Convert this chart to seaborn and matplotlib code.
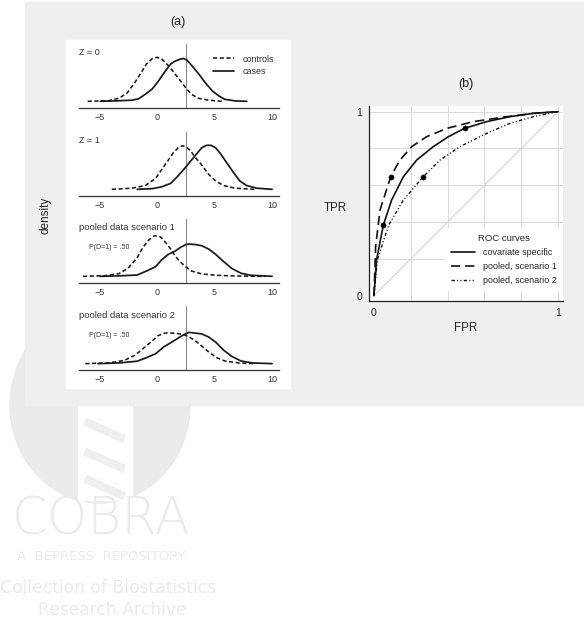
import numpy as np
import pandas as pd
import matplotlib
matplotlib.use("Agg")
import matplotlib.pyplot as plt
import seaborn as sns
from matplotlib.patches import Rectangle, Circle

# ---------------- panel (a): densities ----------------
titles = ['Z = 0', 'Z = 1', 'pooled data scenario 1', 'pooled data scenario 2']
prev_note = [None, None, 'P(D=1) = .50', 'P(D=1) = .50']
cutoff = 2.5

ctrl_x_z0 = [-6.0, -4.2, -3.3, -2.6, -1.9, -1.3, -0.9, -0.4, 0.0, 0.4, 0.7, 1.2, 1.6, 2.0, 2.5, 3.0, 3.6, 4.5, 5.7]
ctrl_y_z0 = [0, 0.003, 0.014, 0.036, 0.086, 0.135, 0.170, 0.194, 0.200, 0.194, 0.179, 0.150, 0.123, 0.097, 0.062, 0.032, 0.014, 0.005, 0]
case_x_z0 = [-4.9, -3.6, -2.2, -1.6, -1.0, -0.4, 0.1, 0.7, 1.2, 1.6, 2.0, 2.3, 2.6, 3.0, 3.6, 4.2, 4.8, 5.4, 5.9, 6.8, 7.8]
case_y_z0 = [0, 0.002, 0.005, 0.011, 0.032, 0.056, 0.089, 0.135, 0.170, 0.183, 0.191, 0.195, 0.188, 0.165, 0.127, 0.085, 0.048, 0.024, 0.009, 0.002, 0]

ctrl_x_z1 = [-3.9, -2.2, -1.0, -0.1, 0.4, 1.0, 1.4, 1.9, 2.2, 2.5, 2.9, 3.3, 3.9, 4.5, 5.1, 5.8, 6.8, 8.5]
ctrl_y_z1 = [0, 0.005, 0.017, 0.050, 0.088, 0.133, 0.164, 0.191, 0.198, 0.194, 0.177, 0.148, 0.110, 0.068, 0.038, 0.017, 0.005, 0]
case_x_z1 = [-1.7, -0.4, 0.4, 1.2, 1.7, 2.3, 2.9, 3.5, 3.9, 4.3, 4.7, 5.1, 5.5, 6.1, 6.7, 7.2, 7.8, 8.7, 10.0]
case_y_z1 = [0, 0.003, 0.011, 0.027, 0.053, 0.088, 0.126, 0.164, 0.189, 0.200, 0.200, 0.189, 0.164, 0.118, 0.073, 0.038, 0.017, 0.005, 0]

ctrl_x_p1 = [-6.4, -4.5, -3.3, -2.5, -1.7, -1.2, -0.7, -0.2, 0.3, 0.7, 1.2, 1.6, 2.0, 2.5, 3.0, 3.9, 5.1, 6.5, 8.6, 9.4]
ctrl_y_p1 = [0, 0.003, 0.012, 0.036, 0.085, 0.132, 0.165, 0.185, 0.180, 0.158, 0.124, 0.092, 0.067, 0.044, 0.024, 0.011, 0.005, 0.002, 0, 0]
case_x_p1 = [-4.9, -3.3, -1.7, -0.9, -0.1, 0.4, 1.0, 1.6, 2.0, 2.5, 2.8, 3.4, 3.9, 4.5, 5.1, 5.8, 6.5, 7.3, 8.1, 10.0]
case_y_p1 = [0, 0.002, 0.006, 0.024, 0.044, 0.074, 0.100, 0.115, 0.130, 0.144, 0.147, 0.144, 0.139, 0.124, 0.100, 0.067, 0.036, 0.014, 0.005, 0]

ctrl_x_p2 = [-6.2, -4.2, -2.8, -1.9, -1.2, -0.4, 0.1, 0.7, 1.3, 1.9, 2.3, 2.7, 3.3, 3.9, 4.5, 5.2, 5.9, 7.1, 8.5]
ctrl_y_p2 = [0, 0.003, 0.015, 0.038, 0.068, 0.103, 0.127, 0.139, 0.139, 0.136, 0.132, 0.124, 0.106, 0.080, 0.053, 0.027, 0.012, 0.003, 0]
case_x_p2 = [-5.1, -3.3, -1.7, -0.9, -0.1, 0.6, 1.3, 2.0, 2.5, 2.8, 3.3, 3.9, 4.5, 5.1, 5.8, 6.5, 7.3, 8.3, 10.0]
case_y_p2 = [0, 0.003, 0.011, 0.027, 0.045, 0.076, 0.098, 0.121, 0.136, 0.142, 0.139, 0.135, 0.121, 0.098, 0.061, 0.033, 0.012, 0.003, 0]

controls = [(ctrl_x_z0, ctrl_y_z0), (ctrl_x_z1, ctrl_y_z1), (ctrl_x_p1, ctrl_y_p1), (ctrl_x_p2, ctrl_y_p2)]
cases = [(case_x_z0, case_y_z0), (case_x_z1, case_y_z1), (case_x_p1, case_y_p1), (case_x_p2, case_y_p2)]
dens_ticks = [-5, 0, 5, 10]

# ---------------- panel (b): ROC curves ----------------
roc_labels = ['covariate specific', 'pooled, scenario 1', 'pooled, scenario 2']
fpr_cov = [0, 0.014, 0.051, 0.096, 0.160, 0.232, 0.322, 0.404, 0.491, 0.612, 0.739, 0.866, 1.0]
tpr_cov = [0, 0.194, 0.384, 0.520, 0.647, 0.737, 0.810, 0.864, 0.909, 0.946, 0.973, 0.991, 1.0]
fpr_p1 = [0, 0.009, 0.033, 0.091, 0.141, 0.205, 0.286, 0.395, 0.540, 0.721, 0.866, 1.0]
tpr_p1 = [0, 0.266, 0.466, 0.647, 0.737, 0.810, 0.864, 0.909, 0.946, 0.973, 0.991, 1.0]
fpr_p2 = [0, 0.018, 0.080, 0.160, 0.268, 0.359, 0.467, 0.612, 0.739, 0.866, 1.0]
tpr_p2 = [0, 0.194, 0.384, 0.520, 0.647, 0.737, 0.810, 0.882, 0.937, 0.973, 1.0]
pt_fpr = [0.050, 0.495, 0.092, 0.265]
pt_tpr = [0.384, 0.910, 0.647, 0.647]

W, H = 584, 636
sns.set_style("white")
plt.rcParams['font.family'] = ['Liberation Sans', 'DejaVu Sans']
fig = plt.figure(figsize=(W / 100, H / 100), dpi=100)


def px_axes(l, t, w, h):
    return fig.add_axes([l / W, 1 - (t + h) / H, w / W, h / H])


def fx(x):
    return x / W


def fy(y):
    return 1 - y / H


# watermark behind everything
wm = '#ebebeb'
fig.patches.append(Circle((fx(100), fy(405)), 90 / W, transform=fig.transFigure,
                          color=wm, zorder=-5))
fig.patches.append(Rectangle((fx(78), fy(500)), 54 / W, 100 / H, transform=fig.transFigure,
                             color='white', zorder=-4.9))
for yy in [425, 455, 482]:
    fig.patches.append(Rectangle((fx(84), fy(yy)), 42 / W, 7 / H, transform=fig.transFigure,
                                 color='#efefef', zorder=-4.8, angle=-22))
fig.text(fx(101), fy(520), 'COBRA', ha='center', va='center', fontsize=37, color=wm,
         family='DejaVu Sans', fontweight='light', zorder=-4)
fig.text(fx(101), fy(557), 'A  BEPRESS  REPOSITORY', ha='center', va='center', fontsize=9.5,
         color=wm, family='DejaVu Sans', zorder=-4)
fig.text(fx(108), fy(588), 'Collection of Biostatistics', ha='center', va='center', fontsize=12.3,
         color=wm, family='DejaVu Sans', zorder=-4)
fig.text(fx(112), fy(610), 'Research Archive', ha='center', va='center', fontsize=12.3,
         color=wm, family='DejaVu Sans', zorder=-4)

# grey graph region and white box of panel (a)
fig.patches.append(Rectangle((fx(25), fy(405)), (W - 25) / W, 403 / H, transform=fig.transFigure,
                             color='#efefef', zorder=-2))
fig.patches.append(Rectangle((fx(66), fy(388)), 224 / W, 348 / H, transform=fig.transFigure,
                             color='white', zorder=-1))

fig.text(fx(178), fy(22), '(a)', ha='center', va='center', fontsize=9, color='#222')
fig.text(fx(45), fy(215), 'density', ha='center', va='center', rotation=90, fontsize=8.5, color='#222')

axis_lines = [107.7, 195.7, 282.7, 370.0]
for i, base in enumerate(axis_lines):
    ax = px_axes(79, base - 64, 200, 64)
    ax.patch.set_alpha(0)
    ax.axvline(cutoff, color='#8a8a8a', lw=0.8)
    cx, cy = controls[i]
    kx, ky = cases[i]
    sns.lineplot(x=cx, y=cy, ax=ax, color='#1a1a1a', lw=1.15, linestyle=(0, (2.6, 1.6)),
                 sort=False, estimator=None, label='controls', legend=False)
    sns.lineplot(x=kx, y=ky, ax=ax, color='#1a1a1a', lw=1.25,
                 sort=False, estimator=None, label='cases', legend=False)
    ax.set_xlim(-6.75, 10.6)
    ax.set_ylim(-0.029, 0.262)
    ax.set_xticks(dens_ticks)
    ax.set_yticks([])
    ax.set_xlabel('')
    ax.set_ylabel('')
    for s in ['top', 'right', 'left']:
        ax.spines[s].set_visible(False)
    ax.spines['bottom'].set_color('#333333')
    ax.spines['bottom'].set_linewidth(0.9)
    ax.tick_params(axis='x', direction='out', length=2, width=0.8, pad=1.5,
                   labelsize=6.5, colors='#333333')
    ax.text(0.0, 0.855, titles[i], transform=ax.transAxes, fontsize=6.8 if i > 1 else 6.5,
            color='#333333', va='center', ha='left')
    if prev_note[i]:
        ax.text(0.05, 0.545, prev_note[i], transform=ax.transAxes, fontsize=5,
                color='#333333', va='center', ha='left')
    if i == 0:
        ax.legend(loc='upper left', bbox_to_anchor=(0.67, 0.83), frameon=False, fontsize=6.5,
                  borderpad=0, borderaxespad=0, handlelength=2.3, handletextpad=1.0,
                  labelspacing=0.35, labelcolor='#333333')

# ---------------- panel (b) ----------------
fig.text(fx(466), fy(84), '(b)', ha='center', va='center', fontsize=9, color='#222')
fig.text(fx(335), fy(208), 'TPR', ha='center', va='center', fontsize=8.3, color='#222')
fig.text(fx(466), fy(328), 'FPR', ha='center', va='center', fontsize=8.3, color='#222')

ax = px_axes(369, 106, 194, 195)
ax.set_facecolor('white')
for g in [0.2, 0.4, 0.6, 0.8, 1.0]:
    ax.axvline(g, color='#dcdcdc', lw=0.8, zorder=0)
    ax.axhline(g, color='#dcdcdc', lw=0.8, zorder=0)
ax.plot([0, 1], [0, 1], color='#d6d6d6', lw=0.8, zorder=0)

sns.lineplot(x=fpr_cov, y=tpr_cov, ax=ax, color='#111111', lw=1.2, sort=False, estimator=None,
             label=roc_labels[0], legend=False)
sns.lineplot(x=fpr_p1, y=tpr_p1, ax=ax, color='#111111', lw=1.2, linestyle=(0, (5.5, 3)),
             sort=False, estimator=None, label=roc_labels[1], legend=False)
sns.lineplot(x=fpr_p2, y=tpr_p2, ax=ax, color='#111111', lw=1.0,
             linestyle=(0, (2.4, 1.6, 0.8, 1.6, 0.8, 1.6)),
             sort=False, estimator=None, label=roc_labels[2], legend=False)
sns.scatterplot(x=pt_fpr, y=pt_tpr, ax=ax, color='black', s=14, edgecolor='black', zorder=5)

ax.set_xlim(-0.027, 1.027)
ax.set_ylim(-0.029, 1.031)
ax.set_xticks([0, 1])
ax.set_yticks([0, 1])
ax.set_xticklabels(['0', '1'])
ax.set_yticklabels(['0', '1'])
ax.set_xlabel('')
ax.set_ylabel('')
for s in ['top', 'right']:
    ax.spines[s].set_visible(False)
for s in ['left', 'bottom']:
    ax.spines[s].set_color('#222222')
    ax.spines[s].set_linewidth(0.9)
ax.tick_params(direction='out', length=3, width=0.8, pad=2, labelsize=7.5, colors='#222222')

leg = ax.legend(loc='upper left', bbox_to_anchor=(0.39, 0.375), title='ROC curves',
                fontsize=6.5, title_fontsize=6.8, frameon=True, fancybox=False,
                framealpha=1, edgecolor='white', handlelength=2.7, handletextpad=0.8,
                labelspacing=0.55, borderpad=0.7, borderaxespad=0)
leg.get_frame().set_linewidth(0)

fig.savefig('out.png', dpi=100)
